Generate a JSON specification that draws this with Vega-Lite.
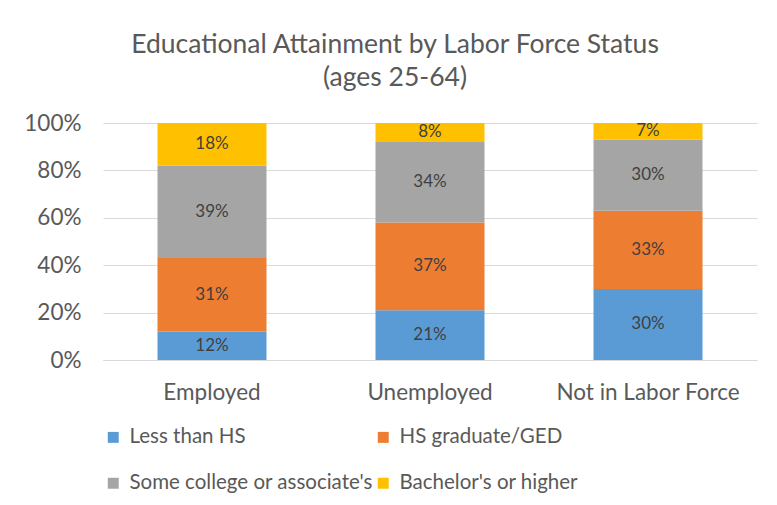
{
  "$schema": "https://vega.github.io/schema/vega-lite/v6.json",
  "width": 654,
  "height": 237,
  "autosize": {"type": "none"},
  "padding": {"left": 103, "top": 123, "right": 20, "bottom": 145},
  "background": "white",
  "title": {
    "text": ["Educational Attainment by Labor Force Status", "(ages 25-64)"],
    "font": "Lato",
    "fontSize": 26.5,
    "fontWeight": "normal",
    "color": "#595959",
    "lineHeight": 33,
    "anchor": "middle",
    "dx": -35,
    "offset": 21
  },
  "config": {
    "view": {"stroke": null},
    "font": "Lato"
  },
  "data": {
    "values": [
      {"status": "Employed", "level": "Less than HS", "k": 1, "v": 0.12},
      {"status": "Employed", "level": "HS graduate/GED", "k": 2, "v": 0.31},
      {"status": "Employed", "level": "Some college or associate's", "k": 3, "v": 0.39},
      {"status": "Employed", "level": "Bachelor's or higher", "k": 4, "v": 0.18},
      {"status": "Unemployed", "level": "Less than HS", "k": 1, "v": 0.21},
      {"status": "Unemployed", "level": "HS graduate/GED", "k": 2, "v": 0.37},
      {"status": "Unemployed", "level": "Some college or associate's", "k": 3, "v": 0.34},
      {"status": "Unemployed", "level": "Bachelor's or higher", "k": 4, "v": 0.08},
      {"status": "Not in Labor Force", "level": "Less than HS", "k": 1, "v": 0.30},
      {"status": "Not in Labor Force", "level": "HS graduate/GED", "k": 2, "v": 0.33},
      {"status": "Not in Labor Force", "level": "Some college or associate's", "k": 3, "v": 0.30},
      {"status": "Not in Labor Force", "level": "Bachelor's or higher", "k": 4, "v": 0.07}
    ]
  },
  "encoding": {
    "x": {
      "field": "status",
      "type": "nominal",
      "sort": ["Employed", "Unemployed", "Not in Labor Force"],
      "scale": {"paddingInner": 0.5, "paddingOuter": 0.25},
      "axis": {
        "title": null,
        "labelAngle": 0,
        "labelFont": "Lato",
        "labelFontSize": 22.5,
        "labelColor": "#595959",
        "labelPadding": 21,
        "labelLimit": 300,
        "ticks": false,
        "domainColor": "#d9d9d9",
        "domainWidth": 1
      }
    },
    "y": {
      "field": "v",
      "type": "quantitative",
      "stack": "zero",
      "scale": {"domain": [0, 1]},
      "axis": {
        "title": null,
        "format": ".0%",
        "values": [0, 0.2, 0.4, 0.6, 0.8, 1],
        "labelFont": "Lato",
        "labelFontSize": 22.5,
        "labelColor": "#595959",
        "labelPadding": 22,
        "ticks": false,
        "domain": false,
        "gridColor": "#d9d9d9",
        "gridWidth": 1
      }
    },
    "order": {"field": "k", "type": "quantitative"}
  },
  "layer": [
    {
      "mark": {"type": "bar"},
      "encoding": {
        "color": {
          "field": "level",
          "type": "nominal",
          "scale": {
            "domain": ["Less than HS", "HS graduate/GED", "Some college or associate's", "Bachelor's or higher"],
            "range": ["#5b9bd5", "#ed7d31", "#a5a5a5", "#ffc000"]
          },
          "legend": {
            "title": null,
            "orient": "none",
            "legendX": 0,
            "legendY": 304,
            "direction": "horizontal",
            "columns": 2,
            "symbolType": "square",
            "symbolSize": 120,
            "symbolStrokeWidth": 0,
            "labelFont": "Lato",
            "labelFontSize": 20.5,
            "labelColor": "#595959",
            "labelOffset": 6,
            "columnPadding": 0,
            "rowPadding": 25,
            "labelLimit": 400
          }
        }
      }
    },
    {
      "mark": {"type": "text", "font": "Lato", "fontSize": 17, "color": "#404040"},
      "encoding": {
        "y": {"field": "v", "type": "quantitative", "stack": "zero", "bandPosition": 0.5},
        "text": {"field": "v", "type": "quantitative", "format": ".0%"}
      }
    }
  ]
}
